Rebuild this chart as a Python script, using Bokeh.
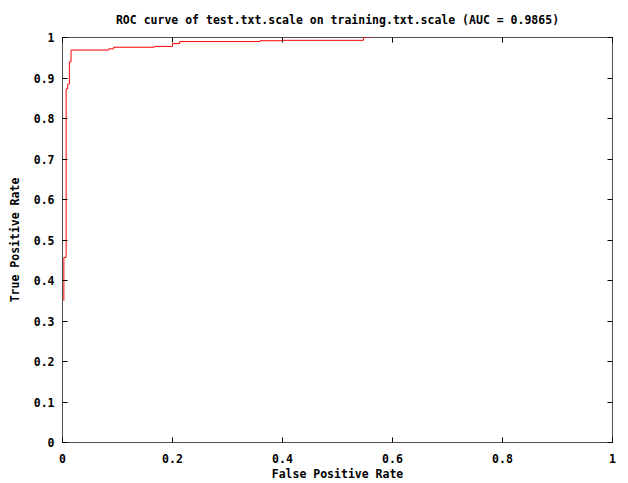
from bokeh.plotting import figure
from bokeh.models import Range1d, LinearAxis, FixedTicker, CustomJSTickFormatter
from bokeh.embed import file_html
from bokeh.resources import INLINE

# ROC curve vertices (false positive rate, true positive rate)
fpr = [0.0025, 0.0025, 0.0066, 0.0066, 0.0094, 0.0094, 0.0125, 0.0125, 0.0155, 0.0155,
       0.084, 0.084, 0.093, 0.093, 0.167, 0.167, 0.200, 0.200, 0.213, 0.213,
       0.359, 0.359, 0.400, 0.400, 0.547, 0.547, 0.561]
tpr = [0.350, 0.457, 0.457, 0.873, 0.873, 0.885, 0.885, 0.940, 0.940, 0.969,
       0.969, 0.972, 0.972, 0.976, 0.976, 0.978, 0.978, 0.985, 0.985, 0.990,
       0.990, 0.992, 0.992, 0.993, 0.993, 1.0, 1.0]

x_ticks = [0, 0.2, 0.4, 0.6, 0.8, 1]
x_tick_labels = ["0", "0.2", "0.4", "0.6", "0.8", "1"]
y_ticks = [0, 0.1, 0.2, 0.3, 0.4, 0.5, 0.6, 0.7, 0.8, 0.9, 1]
y_tick_labels = ["0", "0.1", "0.2", "0.3", "0.4", "0.5", "0.6", "0.7", "0.8", "0.9", "1"]

title_text = "ROC curve of test.txt.scale on training.txt.scale (AUC = 0.9865)"
x_label = "False Positive Rate"
y_label = "True Positive Rate"

FONT = "DejaVu Sans Mono"
FS = "11.5px"

p = figure(width=628, height=483, output_backend="svg", toolbar_location=None,
           x_range=Range1d(0, 1), y_range=Range1d(0, 1),
           min_border_left=62, min_border_right=16, min_border_top=37, min_border_bottom=40,
           x_axis_location=None, y_axis_location=None)
p.background_fill_color = "white"
p.border_fill_color = "white"
p.outline_line_color = "#505050"
p.outline_line_width = 1
p.xgrid.visible = False
p.ygrid.visible = False

p.title.text = title_text
p.title.text_font = FONT
p.title.text_font_size = FS
p.title.text_font_style = "bold"
p.title.text_color = "black"
p.title.align = "center"
p.title.standoff = 21


def style_axis(ax, ticks, labels, show_labels):
    ax.ticker = FixedTicker(ticks=ticks)
    ax.minor_tick_line_color = None
    ax.major_tick_in = 5
    ax.major_tick_out = 0
    ax.major_tick_line_color = "black"
    ax.axis_line_color = None
    ax.major_label_text_font = FONT
    ax.major_label_text_font_style = "bold"
    ax.major_label_text_color = "black"
    ax.major_label_text_font_size = FS
    ax.axis_label_text_font = FONT
    ax.axis_label_text_font_style = "bold"
    ax.axis_label_text_font_size = FS
    ax.axis_label_text_color = "black"
    if show_labels:
        ax.major_label_overrides = {t: l for t, l in zip(ticks, labels)}
    else:
        ax.formatter = CustomJSTickFormatter(code="return ''")
        ax.major_label_standoff = 0


xb = LinearAxis(axis_label=x_label)
style_axis(xb, x_ticks, x_tick_labels, True)
xb.major_label_standoff = 11
xb.axis_label_standoff = 1
p.add_layout(xb, "below")

yl = LinearAxis(axis_label=y_label)
style_axis(yl, y_ticks, y_tick_labels, True)
yl.major_label_standoff = 8
yl.axis_label_standoff = 9
p.add_layout(yl, "left")

xt = LinearAxis()
style_axis(xt, x_ticks, x_tick_labels, False)
p.add_layout(xt, "above")

yr = LinearAxis()
style_axis(yr, y_ticks, y_tick_labels, False)
p.add_layout(yr, "right")

p.line(fpr, tpr, line_color="#ff0000", line_width=1)

open("out.html", "w").write(file_html(p, INLINE))
